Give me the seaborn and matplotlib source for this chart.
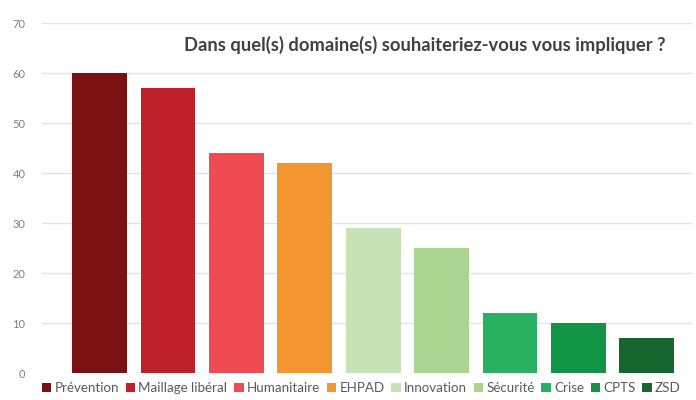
import matplotlib
matplotlib.use("Agg")
import matplotlib.pyplot as plt
import seaborn as sns
import pandas as pd
from matplotlib.patches import Patch

categories = ["Prévention", "Maillage libéral", "Humanitaire", "EHPAD", "Innovation",
              "Sécurité", "Crise", "CPTS", "ZSD"]
values = [60, 57, 44, 42, 29, 25, 12, 10, 7]
colors = ["#7B1113", "#C0202A", "#EE4B52", "#F39530", "#C7E3B5",
          "#A9D591", "#27B060", "#129447", "#17662E"]
yticks = [0, 10, 20, 30, 40, 50, 60, 70]
title = "Dans quel(s) domaine(s) souhaiteriez-vous vous impliquer ?"

sns.set_theme(style="white")
plt.rcParams['font.family'] = ['Lato', 'DejaVu Sans']

df = pd.DataFrame({"cat": categories, "val": values})
fig = plt.figure(figsize=(6.96, 4.0), dpi=100)
ax = fig.add_axes([42/696, 1-373/400, (692-42)/696, 350/400])
sns.barplot(data=df, x="cat", y="val", hue="cat", palette=colors, order=categories,
            hue_order=categories, dodge=False, width=0.8, legend=False, ax=ax,
            saturation=1, linewidth=0)
ax.set_ylim(0, 70)
ax.set_xlim(-0.84, 8.66)
ax.set_yticks(yticks)
ax.yaxis.grid(True, color="#E3E3E3", linewidth=1)
ax.set_axisbelow(True)
for s in ax.spines.values():
    s.set_visible(False)
ax.set_xticks([])
ax.set_xlabel("")
ax.set_ylabel("")
ax.tick_params(axis="y", length=0, labelsize=8, labelcolor="#7F7F7F", pad=12)
fig.text(425/696, 1-45/400, title, ha="center", va="center", fontsize=13.2,
         fontweight="bold", color="#404040")
handles = [Patch(facecolor=c, edgecolor="none") for c in colors]
leg = fig.legend(handles, categories, loc="center left", bbox_to_anchor=(42/696, 1-388/400),
                 ncol=9, frameon=False, fontsize=9.6, handlelength=0.7, handleheight=0.7,
                 handletextpad=0.25, columnspacing=0.5, borderpad=0, borderaxespad=0)
for t in leg.get_texts():
    t.set_color("#595959")
fig.savefig("out.png", dpi=100)
